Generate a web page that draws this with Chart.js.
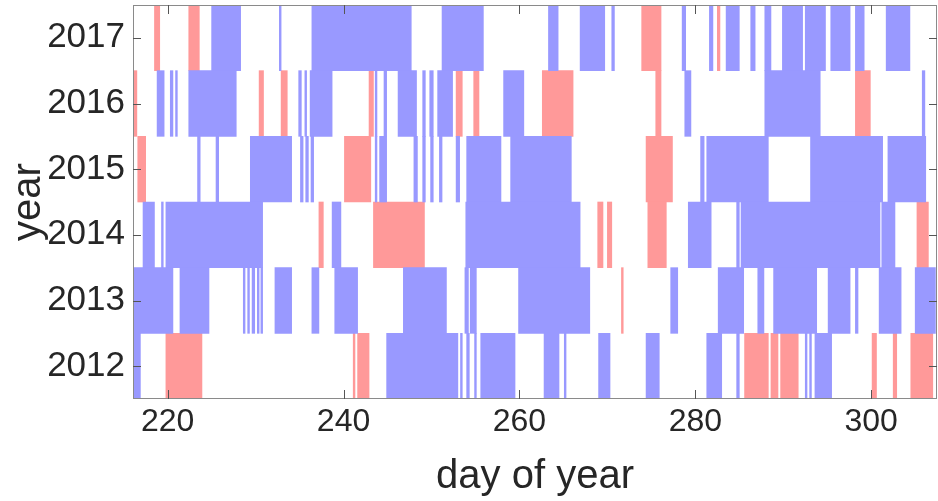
<!DOCTYPE html>
<html><head><meta charset="utf-8">
<script src="https://cdn.jsdelivr.net/npm/chart.js@4/dist/chart.umd.min.js"></script>
<style>html,body{margin:0;padding:0;background:#fff;}#wrap{width:938px;height:501px;position:relative;}</style>
</head><body><div id="wrap"><canvas id="c"></canvas></div>
<script>
const years = ['2017','2016','2015','2014','2013','2012'];
const xTicks = [220, 240, 260, 280, 300];
const xMin = 216.06, xMax = 307.48;

const blue2017 = [[225.0,228.3],[232.7,232.9],[236.4,247.7],[251.2,255.9],[263.3,264.4],[266.9,269.7],[270.5,270.8],[278.5,278.9],[281.6,282.0],[283.5,285.0],[286.3,286.8],[287.9,288.6],[289.9,292.2],[292.5,294.8],[295.4,297.6],[298.2,299.2],[301.7,304.4]];
const red2017 = [[218.5,219.1],[222.4,223.6],[273.9,276.1],[282.5,282.8]];

const blue2016 = [[218.8,219.6],[220.3,220.6],[220.9,221.1],[222.4,227.8],[234.9,235.2],[235.6,235.8],[236.2,238.7],[243.6,243.8],[244.6,244.9],[246.2,248.3],[249.0,249.3],[249.8,250.2],[250.7,252.4],[258.2,260.5],[278.8,279.5],[287.9,294.2],[305.8,306.1]];
const red2016 = [[216.06,216.5],[230.4,230.9],[232.9,233.6],[242.9,243.4],[252.8,253.5],[254.8,255.4],[262.6,266.1],[275.5,276.1],[298.2,299.9]];

const blue2015 = [[223.4,223.7],[225.5,225.8],[229.4,234.1],[235.1,235.4],[235.7,236.0],[236.3,236.6],[243.6,243.8],[244.1,244.9],[248.0,248.4],[249.0,249.3],[249.9,250.2],[250.9,251.2],[252.8,253.2],[254.0,257.9],[259.0,265.9],[280.6,281.0],[281.3,288.3],[293.1,301.3],[301.9,306.2]];
const red2015 = [[216.6,217.5],[240.1,243.1],[274.4,277.4]];

const blue2014 = [[217.2,218.5],[219.3,219.5],[219.8,230.8],[238.7,239.7],[253.9,266.9],[279.2,281.8],[284.7,285.0],[285.2,301.0],[301.2,302.7]];
const red2014 = [[237.2,237.7],[243.4,249.2],[268.9,269.5],[270.0,270.5],[274.6,276.7],[305.2,306.5]];

const blue2013 = [[216.06,220.6],[221.4,224.7],[228.6,228.8],[229.1,229.3],[229.6,229.9],[230.2,230.4],[230.6,230.8],[232.2,234.1],[236.4,237.2],[239.0,241.6],[246.8,251.7],[253.8,254.2],[254.4,255.1],[259.9,268.0],[277.2,278.0],[282.6,285.5],[287.1,287.8],[288.9,293.8],[295.1,297.6],[298.2,298.5],[300.9,303.4],[305.0,307.3]];
const red2013 = [[271.6,271.8]];

const blue2012 = [[216.06,216.9],[244.9,253.0],[253.3,253.5],[254.0,254.3],[254.9,255.1],[255.6,259.5],[262.8,264.5],[265.1,265.3],[269.0,270.3],[274.4,275.9],[281.3,283.0],[284.7,285.0],[292.5,292.7],[293.0,293.2],[293.6,295.5]];
const red2012 = [[219.8,223.9],[241.1,241.3],[241.6,242.9],[285.6,288.3],[288.6,289.4],[289.7,291.7],[300.1,300.6],[302.5,302.9],[304.5,307.0]];

const blueByYear = {'2017':blue2017,'2016':blue2016,'2015':blue2015,'2014':blue2014,'2013':blue2013,'2012':blue2012};
const redByYear = {'2017':red2017,'2016':red2016,'2015':red2015,'2014':red2014,'2013':red2013,'2012':red2012};

const toPoints = (byYear) => years.flatMap(yr => byYear[yr].map(r => ({y: yr, x: r})));

const FONT = "'Liberation Sans', Arial, Helvetica, sans-serif";
const TXT = '#262626';

const frame = {
  id: 'frame',
  afterDatasetsDraw(chart) {
    const {ctx, chartArea: a, scales: {x, y}} = chart;
    ctx.save();
    ctx.lineWidth = 1;
    ctx.strokeStyle = '#8a8a8a';
    ctx.strokeRect(a.left + 0.5, a.top + 0.5, a.right - a.left - 1, a.bottom - a.top - 1);
    ctx.strokeStyle = '#555';
    ctx.beginPath();
    x.ticks.forEach(t => {
      const px = Math.round(x.getPixelForValue(t.value)) + 0.5;
      ctx.moveTo(px, a.bottom); ctx.lineTo(px, a.bottom - 9);
      ctx.moveTo(px, a.top); ctx.lineTo(px, a.top + 9);
    });
    y.ticks.forEach((t, i) => {
      const py = Math.round(y.getPixelForTick(i)) + 0.5;
      ctx.moveTo(a.left, py); ctx.lineTo(a.left + 8, py);
      ctx.moveTo(a.right, py); ctx.lineTo(a.right - 8, py);
    });
    ctx.stroke();
    ctx.restore();
  }
};

new Chart(document.getElementById('c'), {
  type: 'bar',
  data: {
    labels: years,
    datasets: [
      {data: toPoints(blueByYear), backgroundColor: '#9999ff', borderWidth: 0, grouped: false, categoryPercentage: 1, barPercentage: 1},
      {data: toPoints(redByYear), backgroundColor: '#ff9999', borderWidth: 0, grouped: false, categoryPercentage: 1, barPercentage: 1}
    ]
  },
  options: {
    indexAxis: 'y',
    responsive: true,
    maintainAspectRatio: false,
    animation: false,
    layout: {padding: {top: 5, right: 1, left: 0, bottom: 0}},
    plugins: {legend: {display: false}, tooltip: {enabled: false}},
    scales: {
      x: {
        type: 'linear', min: xMin, max: xMax,
        afterBuildTicks: s => { s.ticks = xTicks.map(v => ({value: v})); },
        afterFit: s => { s.height = 102; s.paddingLeft = 0; s.paddingRight = 0; },
        grid: {display: false, drawTicks: false},
        border: {display: false},
        ticks: {font: {family: FONT, size: 32}, color: TXT, padding: 4, maxRotation: 0},
        title: {display: true, text: 'day of year', font: {family: FONT, size: 40}, color: TXT, padding: {top: 0, bottom: 0}}
      },
      y: {
        type: 'category',
        afterFit: s => { s.width = 133; s.paddingTop = 0; s.paddingBottom = 0; },
        grid: {display: false, drawTicks: false},
        border: {display: false},
        ticks: {font: {family: FONT, size: 35}, color: TXT, padding: 8},
        title: {display: true, text: 'year', font: {family: FONT, size: 40}, color: TXT, padding: {top: 5, bottom: 0}}
      }
    }
  },
  plugins: [frame]
});
</script>
</body></html>
